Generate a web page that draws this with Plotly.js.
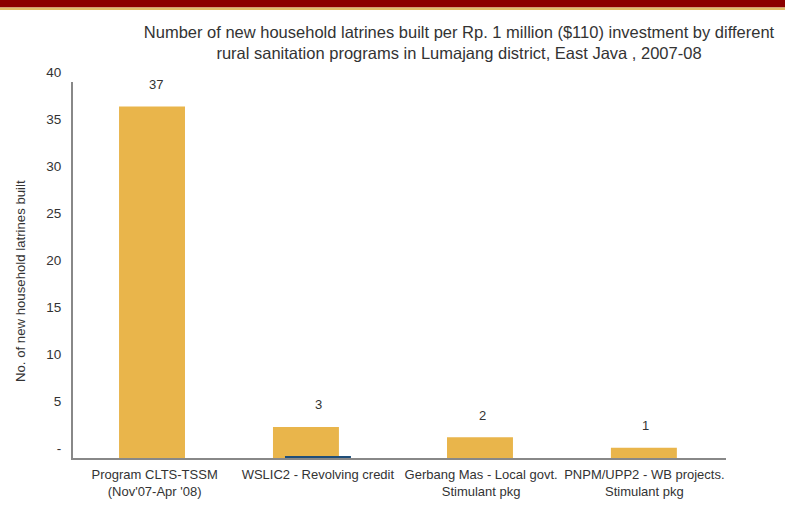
<!DOCTYPE html>
<html>
<head>
<meta charset="utf-8">
<script src="https://cdn.plot.ly/plotly-3.0.1.min.js"></script>
<style>html,body{margin:0;padding:0;background:#fff;}#chart{width:785px;height:508px;}</style>
</head>
<body>
<div id="chart"></div>
<script>
var categories = ["Program CLTS-TSSM<br>(Nov'07-Apr '08)", "WSLIC2 - Revolving credit", "Gerbang Mas - Local govt.<br>Stimulant pkg", "PNPM/UPP2 - WB projects.<br>Stimulant pkg"];
var latrines = [37.4, 3.3, 2.2, 1.1];
var valueLabels = ["37", "3", "2", "1"];
var secondSeries = [0, 0.2, 0, 0];
var yTickVals = [0, 5, 10, 15, 20, 25, 30, 35, 40];
var yTickText = ["-", "5", "10", "15", "20", "25", "30", "35", "40"];
var yTitle = "No. of new household latrines built";

var font = "Liberation Sans, Arial, Helvetica, sans-serif";
var txt = "#333333";

var traces = [
  {
    type: "bar", x: categories, y: latrines,
    marker: {color: "#E9B54B"},
    width: 0.404,
    offset: [-0.218, -0.275, -0.209, -0.205],
    hoverinfo: "x+y", showlegend: false
  },
  {
    type: "bar", x: categories, y: secondSeries,
    marker: {color: "#1F4E79"},
    width: 0.404,
    offset: -0.2015,
    hoverinfo: "x+y", showlegend: false
  }
];

var annotations = categories.map(function (c, i) {
  return {x: c, y: latrines[i], text: valueLabels[i], showarrow: false,
    xref: "x", yref: "y", yshift: 22, xshift: 1, font: {family: font, size: 13, color: txt}};
});
annotations.push({
  text: yTitle, textangle: -90, showarrow: false,
  xref: "paper", yref: "paper", x: (20 - 73) / 653, y: (458 - 281) / 376,
  xanchor: "center", yanchor: "middle",
  font: {family: font, size: 13.2, color: txt}
});

var layout = {
  width: 785, height: 508,
  margin: {l: 73, r: 59, t: 82, b: 50, pad: 0},
  paper_bgcolor: "#ffffff", plot_bgcolor: "#ffffff",
  barmode: "overlay",
  font: {family: font, color: txt},
  title: {
    text: "Number of new household latrines built per Rp. 1 million ($110) investment by different<br>rural sanitation programs in Lumajang district, East Java , 2007-08",
    font: {family: font, size: 16.5, color: txt},
    x: 459 / 785, xanchor: "center", xref: "container",
    y: 1 - 38 / 508, yanchor: "top", yref: "container"
  },
  xaxis: {
    type: "category", range: [-0.5, 3.5], autorange: false,
    showline: true, linecolor: "#888888", linewidth: 2,
    showgrid: false, zeroline: false, ticks: "",
    ticklabelstandoff: 3,
    tickfont: {family: font, size: 13, color: txt},
    fixedrange: true
  },
  yaxis: {
    range: [0, 40], autorange: false,
    tickvals: yTickVals, ticktext: yTickText,
    showline: true, linecolor: "#888888", linewidth: 2,
    showgrid: false, zeroline: false, ticks: "",
    ticklabelshift: -10, ticklabelstandoff: 7,
    tickfont: {family: font, size: 13.5, color: txt},
    fixedrange: true
  },
  annotations: annotations,
  shapes: [
    {type: "rect", xref: "paper", yref: "paper", x0: -0.2, x1: 1.2, y0: (458 - 7.5) / 376, y1: 1.3,
      fillcolor: "#8B0000", line: {width: 0}, layer: "above"},
    {type: "rect", xref: "paper", yref: "paper", x0: -0.2, x1: 1.2, y0: (458 - 10) / 376, y1: (458 - 7.5) / 376,
      fillcolor: "#E0BE6A", line: {width: 0}, layer: "above"}
  ],
  showlegend: false
};

Plotly.newPlot("chart", traces, layout, {displayModeBar: false, staticPlot: true});
</script>
</body>
</html>
